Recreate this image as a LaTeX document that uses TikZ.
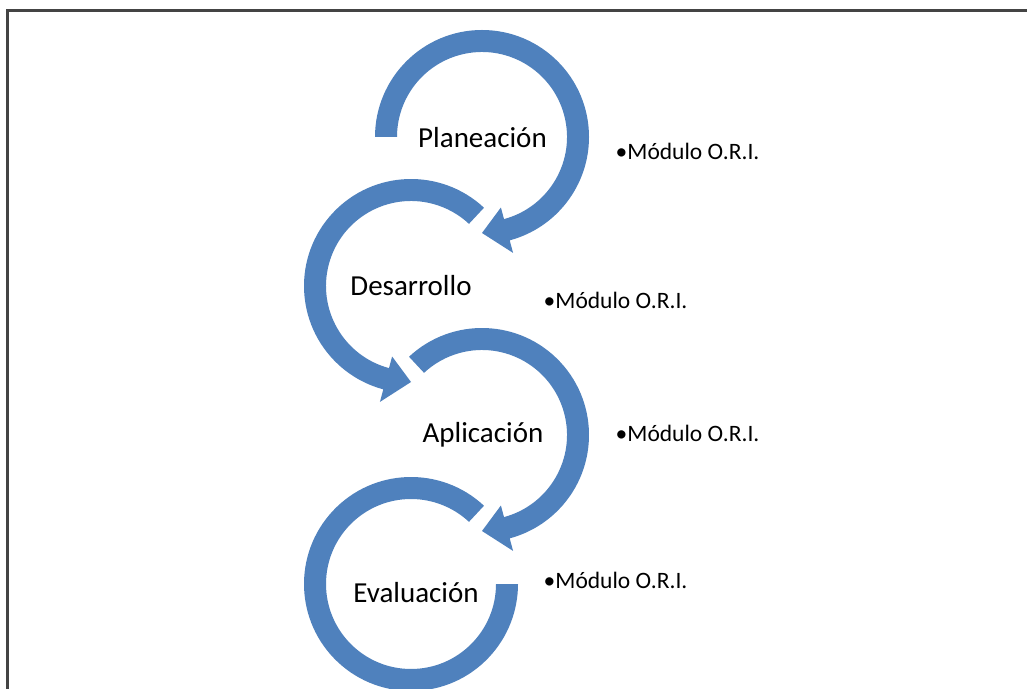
\documentclass[tikz,border=0pt]{standalone}
\usepackage{fontspec}
\setmainfont{Carlito}
\definecolor{arrowblue}{HTML}{4F81BD}
\definecolor{framegray}{HTML}{444444}
\newcommand\ringOuter{107}
\newcommand\ringInner{85}
\newcommand\ringMid{96}
\newcommand\headOut{120}
\newcommand\headIn{73}
% #1 centre, #2 start angle, #3 angle of the head's base, #4 angle of the tip
\newcommand\ringArrowShape[4]{%
  \begin{scope}[shift={#1}]
    \fill[arrowblue] (#2:\ringOuter) arc[start angle=#2,end angle=#3,radius=\ringOuter]
      -- (#3:\headOut) -- (#4:\ringMid) -- (#3:\headIn) -- (#3:\ringInner)
      arc[start angle=#3,end angle=#2,radius=\ringInner] -- cycle;
  \end{scope}}
\newcommand\ringPlainShape[3]{%
  \begin{scope}[shift={#1}]
    \fill[arrowblue] (#2:\ringOuter) arc[start angle=#2,end angle=#3,radius=\ringOuter]
      -- (#3:\ringInner) arc[start angle=#3,end angle=#2,radius=\ringInner] -- cycle;
  \end{scope}}
\begin{document}
\begin{tikzpicture}[x=1pt,y=1pt,
  steplabel/.style={font=\fontsize{29}{34}\selectfont, text=black, inner sep=0pt, anchor=base},
  notelabel/.style={font=\fontsize{23.5}{28}\selectfont, text=black, inner sep=0pt, anchor=base west}]
\useasboundingbox (0,0) rectangle (1027,688);
\clip (0,0) rectangle (1027,688);
\fill[white] (0,0) rectangle (1027,688);
\draw[framegray, line width=3pt] (7.8,-20) rectangle (1050,677.7);
\coordinate (c1) at (482,551);
\coordinate (c2) at (411,402);
\coordinate (c3) at (482,253);
\coordinate (c4) at (411,104);
\ringArrowShape{(c1)}{180}{-75}{-90}
\ringArrowShape{(c2)}{47}{255}{270}
\ringArrowShape{(c3)}{133}{-75}{-90}
\ringPlainShape{(c4)}{47}{360}
\node[steplabel] (plan) at (482.5,540.7) {Planeación};
\node[steplabel] (desa) at (411,392) {Desarrollo};
\node[steplabel] (apli) at (483,245.3) {Aplicación};
\node[steplabel] (eval) at (416,85.3) {Evaluación};
\node[notelabel] (m1) at (615.5,528.7) {•Módulo O.R.I.};
\node[notelabel] (m2) at (543.5,379.5) {•Módulo O.R.I.};
\node[notelabel] (m3) at (615.5,246.5) {•Módulo O.R.I.};
\node[notelabel] (m4) at (543.5,99.5) {•Módulo O.R.I.};
\end{tikzpicture}
\end{document}
